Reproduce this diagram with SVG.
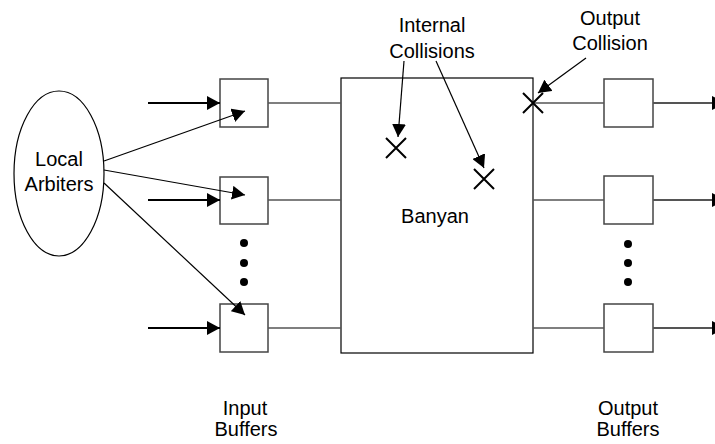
<svg xmlns="http://www.w3.org/2000/svg" width="715" height="444" viewBox="0 0 715 444">
<style>
text{font-family:"Liberation Sans",Arial,sans-serif;font-size:20px;fill:#000;text-anchor:middle}
.box{fill:#fff;stroke:#444;stroke-width:1.5}
.in{stroke:#000;stroke-width:2;fill:none}
.thin{stroke:#000;stroke-width:1.2;fill:none}
.gl{stroke:#555;stroke-width:1.5;fill:none}
.out{stroke:#555;stroke-width:2;fill:none}
.x{stroke:#000;stroke-width:2;fill:none}
</style>
<defs>
<marker id="ah" markerUnits="userSpaceOnUse" markerWidth="14" markerHeight="14" refX="13" refY="7" orient="auto" viewBox="0 0 14 14">
<path d="M0,0 L13,7 L0,14 z" fill="#000"/>
</marker>
</defs>
<g id="arbiters">
<ellipse cx="59" cy="173.5" rx="45" ry="82.5" fill="#fff" stroke="#000" stroke-width="1.2"/>
<text x="59" y="166">Local</text>
<text x="59" y="191">Arbiters</text>
</g>
<g id="banyan">
<rect x="341" y="78" width="192" height="275" fill="none" stroke="#000" stroke-width="1.2"/>
<text x="435" y="223">Banyan</text>
</g>
<g id="in1"><rect class="box" x="220" y="79" width="48" height="48"/></g>
<g id="in2"><rect class="box" x="220" y="177" width="48" height="47"/></g>
<g id="in3"><rect class="box" x="220" y="304" width="48" height="48"/></g>
<g id="out1"><rect class="box" x="604" y="79" width="49" height="48"/></g>
<g id="out2"><rect class="box" x="604" y="176" width="49" height="48"/></g>
<g id="out3"><rect class="box" x="604" y="304" width="49" height="48"/></g>
<g id="dots">
<circle cx="244" cy="243" r="4"/><circle cx="244" cy="263" r="4"/><circle cx="244" cy="282" r="4"/>
<circle cx="628" cy="244" r="4"/><circle cx="628" cy="263" r="4"/><circle cx="628" cy="282" r="4"/>
</g>
<g id="connectors">
<line class="in" x1="148" y1="103" x2="220" y2="103" marker-end="url(#ah)"/>
<line class="in" x1="148" y1="200" x2="220" y2="200" marker-end="url(#ah)"/>
<line class="in" x1="148" y1="328" x2="220" y2="328" marker-end="url(#ah)"/>
<line class="thin" x1="104" y1="161" x2="245" y2="111" marker-end="url(#ah)"/>
<line class="thin" x1="104" y1="170" x2="245" y2="195" marker-end="url(#ah)"/>
<line class="thin" x1="104" y1="183" x2="245" y2="315" marker-end="url(#ah)"/>
<line class="gl" x1="268" y1="103" x2="341" y2="103"/>
<line class="gl" x1="268" y1="200" x2="341" y2="200"/>
<line class="gl" x1="268" y1="328" x2="341" y2="328"/>
<line class="gl" x1="533" y1="103" x2="604" y2="103"/>
<line class="gl" x1="533" y1="200" x2="604" y2="200"/>
<line class="gl" x1="533" y1="328" x2="604" y2="328"/>
<line class="out" x1="653" y1="103" x2="725" y2="103" marker-end="url(#ah)"/>
<line class="out" x1="653" y1="200" x2="725" y2="200" marker-end="url(#ah)"/>
<line class="out" x1="653" y1="328" x2="725" y2="328" marker-end="url(#ah)"/>
<line class="thin" x1="404" y1="61" x2="398" y2="137" marker-end="url(#ah)"/>
<line class="thin" x1="436" y1="61" x2="484" y2="168" marker-end="url(#ah)"/>
<line class="thin" x1="586" y1="58" x2="538" y2="93" marker-end="url(#ah)"/>
</g>
<g id="collisions">
<path class="x" d="M386,138 L406,158 M406,138 L386,158"/>
<path class="x" d="M474,169 L494,189 M494,169 L474,189"/>
<path class="x" d="M523,93 L543,113 M543,93 L523,113"/>
</g>
<g id="labels">
<text x="432" y="32">Internal</text>
<text x="432" y="58">Collisions</text>
<text x="610" y="25">Output</text>
<text x="610" y="50">Collision</text>
<text x="245" y="415">Input</text>
<text x="246" y="436">Buffers</text>
<text x="628" y="415">Output</text>
<text x="628" y="436">Buffers</text>
</g>
</svg>
